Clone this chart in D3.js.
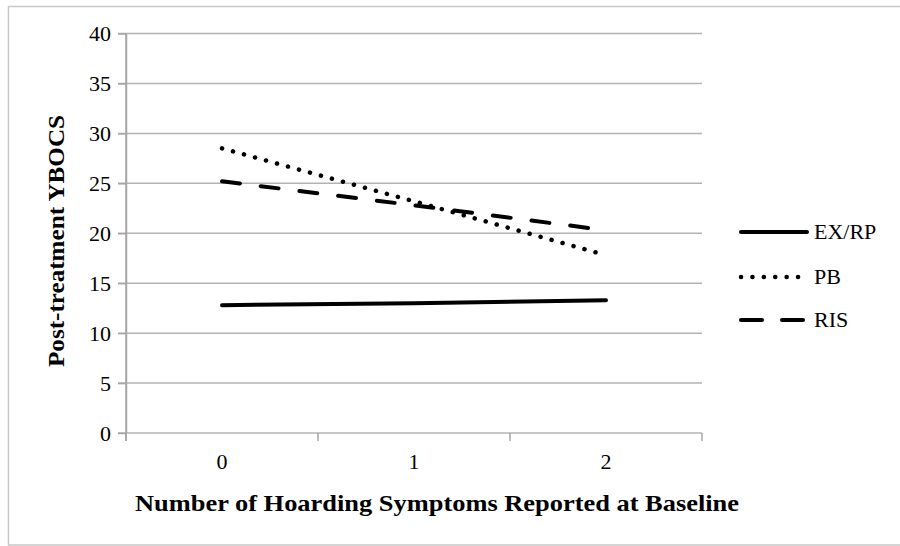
<!DOCTYPE html>
<html>
<head>
<meta charset="utf-8">
<script src="https://d3js.org/d3.v7.min.js"></script>
<style>
body { margin: 0; background: #fff; overflow: hidden; }
svg text { font-family: "Liberation Serif", "DejaVu Serif", serif; fill: #000; }
.axis path, .axis line { stroke: #a6a6a6; stroke-width: 1.5; }
.grid line { stroke: #b3b3b3; stroke-width: 1.5; }
</style>
</head>
<body>
<svg id="chart"></svg>
<script>
// data
var categories = ["0", "1", "2"];
var seriesNames = ["EX/RP", "PB", "RIS"];
var exrp = [12.8, 13.0, 13.3];
var pb = [28.5, 23.2, 17.8];
var ris = [25.2, 22.8, 20.3];
var yTicks = [0, 5, 10, 15, 20, 25, 30, 35, 40];

var W = 900, H = 546;
var svg = d3.select("#chart").attr("width", W).attr("height", H);

// outer frame (right edge runs off the picture)
svg.append("path")
  .attr("d", "M905,6.5 H8.5 V545 H905")
  .attr("fill", "none")
  .attr("stroke", "#c8c8c8")
  .attr("stroke-width", 1.5);

var x = d3.scaleBand().domain(categories).range([126, 702]);
var y = d3.scaleLinear().domain([0, 40]).range([433, 33.5]);

// gridlines
svg.append("g").attr("class", "grid")
  .selectAll("line").data(yTicks).enter().append("line")
  .attr("x1", 118).attr("x2", 702)
  .attr("y1", function(d) { return y(d); })
  .attr("y2", function(d) { return y(d); });

// y axis
var gy = svg.append("g").attr("class", "axis")
  .attr("transform", "translate(126,0)")
  .call(d3.axisLeft(y).tickValues(yTicks).tickSize(8).tickSizeOuter(0).tickPadding(7));
gy.selectAll("text").style("font-size", "22px").attr("dy", "0.34em");

// x axis: labels at band centres, tick marks at band edges
var gx = svg.append("g").attr("class", "axis")
  .attr("transform", "translate(0," + y(0) + ")")
  .call(d3.axisBottom(x).tickSize(0).tickSizeOuter(0).tickPadding(20));
gx.select(".domain").remove();
gx.selectAll("text").style("font-size", "22px");

var edges = categories.map(function(c) { return x(c); }).concat([x.range()[1]]);
svg.append("g").attr("class", "axis")
  .selectAll("line").data(edges).enter().append("line")
  .attr("x1", function(d) { return d; }).attr("x2", function(d) { return d; })
  .attr("y1", y(0)).attr("y2", y(0) + 8);
svg.append("line").attr("class", "axis")
  .attr("x1", 126).attr("x2", 126).attr("y1", y(40)).attr("y2", y(0) + 8)
  .attr("stroke", "#a6a6a6").attr("stroke-width", 1.5);

// axis titles
svg.append("text")
  .attr("x", 437)
  .attr("y", 511)
  .attr("text-anchor", "middle")
  .style("font-size", "24px").style("font-weight", "bold")
  .attr("textLength", 604).attr("lengthAdjust", "spacingAndGlyphs")
  .text("Number of Hoarding Symptoms Reported at Baseline");

svg.append("text")
  .attr("transform", "translate(64,241) rotate(-90)")
  .attr("text-anchor", "middle")
  .style("font-size", "24px").style("font-weight", "bold")
  .attr("textLength", 252).attr("lengthAdjust", "spacingAndGlyphs")
  .text("Post-treatment YBOCS");

// lines
var styles = {
  "EX/RP": { data: exrp, dash: null },
  "PB": { data: pb, dash: "0.1 11.3" },
  "RIS": { data: ris, dash: "18 21" }
};
var line = d3.line()
  .x(function(d, i) { return x(categories[i]) + x.bandwidth() / 2; })
  .y(function(d) { return y(d); });

seriesNames.forEach(function(name) {
  var s = styles[name];
  svg.append("path")
    .attr("d", line(s.data))
    .attr("fill", "none")
    .attr("stroke", "#000")
    .attr("stroke-width", name === "PB" ? 4.5 : 4)
    .attr("stroke-linecap", "round")
    .attr("stroke-dasharray", s.dash);
});

// legend
var legY = [232, 277, 320];
seriesNames.forEach(function(name, i) {
  var s = styles[name];
  svg.append("line")
    .attr("x1", 741).attr("x2", 807)
    .attr("y1", legY[i]).attr("y2", legY[i])
    .attr("stroke", "#000")
    .attr("stroke-width", name === "PB" ? 4.5 : 4)
    .attr("stroke-linecap", "round")
    .attr("stroke-dasharray", name === "RIS" ? "21 20" : s.dash);
  svg.append("text")
    .attr("x", 814).attr("y", legY[i])
    .attr("dy", "0.34em")
    .style("font-size", "22px")
    .text(name);
});
</script>
</body>
</html>
